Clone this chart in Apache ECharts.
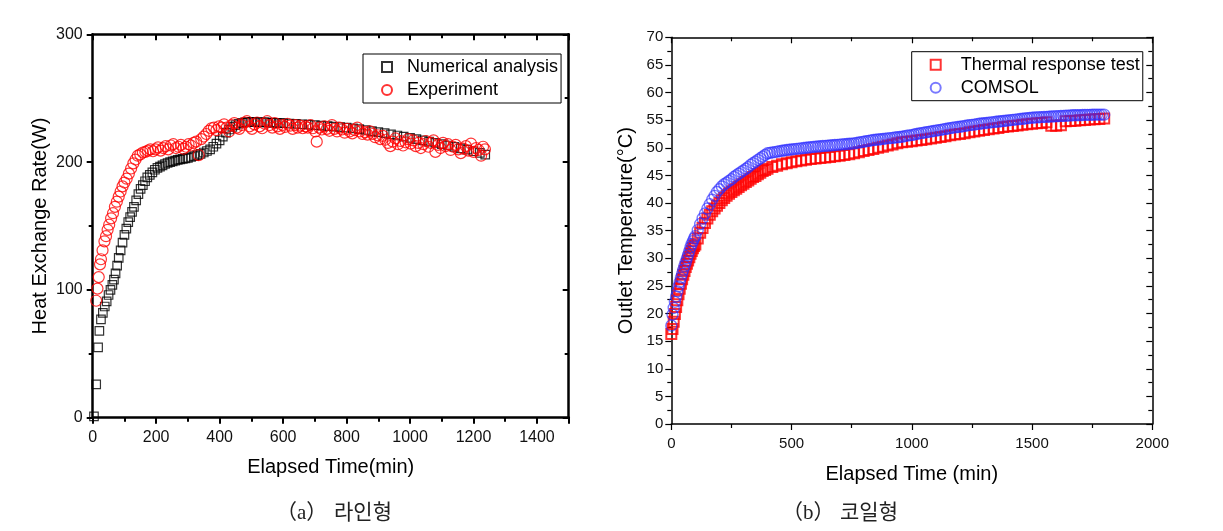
<!DOCTYPE html>
<html><head><meta charset="utf-8">
<script src="https://cdn.jsdelivr.net/npm/echarts@6/dist/echarts.min.js"></script>
<style>html,body{margin:0;padding:0;background:#fff}#c{width:1223px;height:531px}</style>
</head><body><div id="c"></div>
<script>
// ---- (a) line type: heat exchange rate ----
const numTime = [4,11,17,21,26,32,38,44,50,56,62,67,72,77,82,88,94,100,106,112,118,124,130,137,144,151,158,165,172,180,188,196,204,212,220,228,236,244,252,260,268,276,284,292,300,310,320,330,340,350,360,370,380,390,400,410,420,430,440,450,460,470,480,490,500,510,520,530,540,550,560,570,580,590,600,620,640,660,680,700,720,740,760,780,800,820,840,860,880,900,920,940,960,980,1000,1020,1040,1060,1080,1100,1120,1140,1160,1180,1200,1220,1237];
const numValue = [1,26,55,68,77,82,87,91,96,100,104,108,113,119,125,131,137,143,148,153,157,161,165,170,175,179,182,185,188,190,192,194,195.5,196.5,197.5,198.5,199.3,200,200.6,201.2,201.7,202.1,202.5,202.9,203.3,204,204.7,205.5,206.5,207.5,208.7,210,212,214.5,217,220,223,225.5,227.5,229,230,230.7,231.1,231.3,231.4,231.4,231.3,231.2,231.1,231,230.9,230.8,230.7,230.6,230.5,230.2,229.9,229.6,229.3,229,228.6,228.2,227.8,227.4,227,226.4,225.8,225.1,224.3,223.5,222.6,221.7,220.8,219.9,219,218,217,216,215,214,213,211.9,210.8,209.7,208.5,207.2,205.8];
const expTime = [11,15,19,23,26,31,37,42,47,52,58,64,70,76,82,88,94,100,107,114,121,128,135,142,150,158,166,174,182,190,198,206,214,222,230,238,246,254,262,270,278,286,294,302,310,318,326,334,342,350,358,366,374,382,390,398,406,414,422,430,438,446,454,462,470,478,486,494,502,510,518,526,534,542,550,558,566,574,582,590,598,606,614,622,630,638,646,654,662,670,678,686,694,702,706,714,722,730,738,746,754,762,770,778,786,794,802,810,818,826,834,842,850,858,866,874,882,890,898,906,914,922,930,938,946,954,962,970,978,986,994,1002,1010,1018,1026,1034,1042,1050,1058,1066,1074,1080,1088,1096,1104,1112,1120,1128,1136,1144,1152,1160,1168,1176,1184,1192,1200,1208,1216,1224,1230,1236];
const expValue = [91.5,101,110,120,124,131,138,142,147,151,156,160,165,169,173,177,181,184,187,191,195,199,202,205,206,207.5,208,209,210,208.5,210,211.5,209,211,212.5,210,213,214,211,212,213.5,210.5,212,214,213,215,216,205.5,218,220,222,224.5,226.5,227,225,228,227,229.5,227,224,229,230.5,227,226,229,231,232,228,226,229.5,231,228,226.5,230,232,229,227,230.5,228,226,229,227.5,230,228.5,226,229,227,228.5,226.5,228,227,229,226.5,224,216,227,225.5,228,226,224.5,229,226,224,227,225.5,223,226,224,222.5,225,227,224,222,223.5,221.5,224,222,219.5,221,218,220.5,217.5,215,212.5,216,218.5,214,216.5,213,215.5,218,214.5,217,212.5,215,211,214,216.5,212,215,217,208,213.5,211,215,212.5,214,209.5,212,213.5,210,207,210.5,212.5,209,214.5,208,211,209.5,205,212,210];

// ---- (b) coil type: outlet temperature ----
const trtTime = [0,5,10,15,20,25,30,35,40,45,50,55,60,65,70,75,80,85,90,95,100,110,120,130,140,150,160,170,180,190,200,210,220,230,240,250,260,270,280,290,300,310,320,330,340,350,360,370,380,390,400,420,440,460,480,500,520,540,560,580,600,620,640,660,680,700,720,740,760,780,800,820,840,860,880,900,920,940,960,980,1000,1020,1040,1060,1080,1100,1120,1140,1160,1180,1200,1220,1240,1260,1280,1300,1320,1340,1360,1380,1400,1420,1440,1460,1480,1500,1520,1540,1560,1580,1600,1620,1640,1660,1680,1700,1720,1740,1760,1780,1800];
const trtValue = [16.3,17.2,18.5,19.9,21.2,22.4,23.5,24.5,25.4,26.2,27.0,27.7,28.4,29.0,29.6,30.2,30.8,31.3,31.8,32.2,32.5,33.6,34.6,35.5,36.4,37.2,37.9,38.5,39.0,39.5,40.0,40.5,40.9,41.3,41.7,42.0,42.3,42.6,42.9,43.2,43.5,43.8,44.1,44.4,44.7,44.9,45.2,45.5,45.8,46.0,46.2,46.5,46.75,47.0,47.2,47.4,47.55,47.7,47.85,47.95,48.05,48.15,48.25,48.35,48.45,48.55,48.7,48.85,49.0,49.2,49.4,49.6,49.8,50.0,50.2,50.4,50.6,50.8,51.0,51.1,51.2,51.3,51.4,51.55,51.7,51.8,51.95,52.1,52.25,52.4,52.5,52.65,52.8,52.95,53.1,53.2,53.35,53.5,53.6,53.75,53.85,53.95,54.05,54.15,54.25,54.35,54.45,54.5,54.6,54.0,54.0,54.1,54.8,54.85,54.9,55.0,55.05,55.1,55.15,55.2,55.3];
const comTime = [0,5,10,15,20,25,30,35,40,45,50,55,60,65,70,75,80,85,90,95,100,110,120,130,140,150,160,170,180,190,200,210,220,230,240,250,260,270,280,290,300,310,320,330,340,350,360,370,380,390,400,410,420,430,440,450,460,470,480,490,500,510,520,530,540,550,560,570,580,590,600,610,620,630,640,650,660,670,680,690,700,710,720,730,740,750,760,770,780,790,800,810,820,830,840,850,860,870,880,890,900,910,920,930,940,950,960,970,980,990,1000,1010,1020,1030,1040,1050,1060,1070,1080,1090,1100,1110,1120,1130,1140,1150,1160,1170,1180,1190,1200,1210,1220,1230,1240,1250,1260,1270,1280,1290,1300,1310,1320,1330,1340,1350,1360,1370,1380,1390,1400,1410,1420,1430,1440,1450,1460,1470,1480,1490,1500,1510,1520,1530,1540,1550,1560,1570,1580,1590,1600,1610,1620,1630,1640,1650,1660,1670,1680,1690,1700,1710,1720,1730,1740,1750,1760,1770,1780,1790,1800];
const comValue = [17.8,19.8,21.0,22.1,23.1,24.0,24.9,25.7,26.5,27.2,27.9,28.6,29.3,30.0,30.6,31.3,32.0,32.6,33.1,33.6,34.0,35.1,36.2,37.2,38.1,39.0,39.8,40.6,41.3,42.0,42.5,43.0,43.4,43.7,44.0,44.3,44.7,45.0,45.3,45.6,45.9,46.2,46.5,46.9,47.2,47.5,47.8,48.1,48.4,48.7,49.0,49.08,49.15,49.22,49.3,49.38,49.45,49.52,49.6,49.65,49.7,49.75,49.8,49.85,49.9,49.95,50.0,50.05,50.1,50.15,50.2,50.23,50.27,50.31,50.35,50.38,50.42,50.46,50.5,50.53,50.57,50.61,50.65,50.68,50.72,50.76,50.8,50.88,50.95,51.03,51.1,51.18,51.25,51.33,51.4,51.45,51.5,51.55,51.6,51.65,51.7,51.75,51.8,51.85,51.9,51.95,52.0,52.1,52.2,52.25,52.3,52.4,52.5,52.58,52.65,52.73,52.8,52.88,52.95,53.03,53.1,53.18,53.25,53.33,53.4,53.48,53.55,53.63,53.7,53.75,53.8,53.88,53.95,54.03,54.1,54.15,54.2,54.28,54.35,54.4,54.45,54.5,54.55,54.6,54.65,54.7,54.75,54.8,54.85,54.9,54.95,55.0,55.05,55.1,55.15,55.2,55.25,55.3,55.35,55.4,55.45,55.48,55.5,55.53,55.55,55.58,55.6,55.63,55.65,55.68,55.7,55.73,55.75,55.78,55.8,55.83,55.85,55.88,55.9,55.9,55.9,55.93,55.95,55.95,55.95,55.98,56.0,56.0,56.0,56.0,56.0];

const seriesNames = ['Numerical analysis','Experiment','Thermal response test','COMSOL'];
const axisTitles = ['Elapsed Time(min)','Heat Exchange Rate(W)','Elapsed Time (min)','Outlet Temperature(\u00B0C)'];
const captionTags = ['\uFF08a\uFF09','\uFF08b\uFF09'];
const captionNames = ['라인형','코일형'];

const pairs = (xs, ys) => xs.map((x, i) => [x, ys[i]]);
const FONT = '"Liberation Sans", Arial, sans-serif';
const SERIF = '"Liberation Serif", "Noto Sans CJK KR", serif';

function axis(o) {
  const lw = o.lw, c = '#000';
  return {
    type: 'value', gridIndex: o.g, position: o.pos, min: o.min, max: o.max, interval: o.interval,
    splitLine: { show: false },
    axisLine: { show: true, onZero: false, lineStyle: { color: c, width: lw } },
    axisTick: { show: true, inside: o.inside, length: 6, lineStyle: { color: c, width: lw * 0.8 } },
    minorTick: { show: true, splitNumber: 2, length: 4, lineStyle: { color: c, width: lw * 0.8 } },
    axisLabel: o.label ? { show: true, color: '#111', fontFamily: FONT, fontSize: o.fs, margin: o.margin,
      showMaxLabel: o.showMax !== false, formatter: v => String(v) } : { show: false },
    name: o.name || '', nameLocation: 'middle', nameGap: o.nameGap || 0,
    nameTextStyle: { fontFamily: FONT, fontSize: 20, color: '#000' }
  };
}

const chart = echarts.init(document.getElementById('c'), null, { renderer: 'canvas' });
chart.setOption({
  backgroundColor: '#fff',
  animation: false,
  grid: [
    { left: 92.7, top: 34.3, width: 476, height: 383.4, containLabel: false },
    { left: 671.3, top: 37.3, width: 481, height: 386.7, containLabel: false }
  ],
  xAxis: [
    axis({ g: 0, pos: 'bottom', min: 0, max: 1500, interval: 200, lw: 2.5, inside: false, label: true, fs: 16, margin: 12, showMax: false, name: axisTitles[0], nameGap: 40 }),
    axis({ g: 0, pos: 'top', min: 0, max: 1500, interval: 200, lw: 2.5, inside: true, label: false }),
    axis({ g: 1, pos: 'bottom', min: 0, max: 2000, interval: 500, lw: 1.5, inside: false, label: true, fs: 15, margin: 12, name: axisTitles[2], nameGap: 40 }),
    axis({ g: 1, pos: 'top', min: 0, max: 2000, interval: 500, lw: 1.5, inside: true, label: false })
  ],
  yAxis: [
    axis({ g: 0, pos: 'left', min: 0, max: 300, interval: 100, lw: 2.5, inside: false, label: true, fs: 16, margin: 10, name: axisTitles[1], nameGap: 42 }),
    axis({ g: 0, pos: 'right', min: 0, max: 300, interval: 100, lw: 2.5, inside: true, label: false }),
    axis({ g: 1, pos: 'left', min: 0, max: 70, interval: 5, lw: 1.5, inside: false, label: true, fs: 15, margin: 8, name: axisTitles[3], nameGap: 35 }),
    axis({ g: 1, pos: 'right', min: 0, max: 70, interval: 5, lw: 1.5, inside: true, label: false })
  ],
  legend: [
    { data: [seriesNames[0], seriesNames[1]], orient: 'vertical', left: 363, top: 54,
      borderColor: '#000', borderWidth: 1, padding: [4, 3, 4, 18], itemGap: 5,
      itemWidth: 10, itemHeight: 10,
      textStyle: { fontFamily: FONT, fontSize: 18, color: '#000', padding: [0, 0, 0, 10] } },
    { data: [seriesNames[2], seriesNames[3]], orient: 'vertical', left: 911.7, top: 51.7,
      borderColor: '#000', borderWidth: 1, padding: [4, 3, 4, 18], itemGap: 5,
      itemWidth: 10, itemHeight: 10,
      textStyle: { fontFamily: FONT, fontSize: 18, color: '#000', padding: [0, 0, 0, 15] } }
  ],
  series: [
    { name: seriesNames[0], type: 'scatter', xAxisIndex: 0, yAxisIndex: 0, symbol: 'rect', symbolSize: 8.5,
      data: pairs(numTime, numValue), itemStyle: { color: 'rgba(0,0,0,0)', borderColor: '#000', borderWidth: 1.2 } },
    { name: seriesNames[1], type: 'scatter', xAxisIndex: 0, yAxisIndex: 0, symbol: 'circle', symbolSize: 11,
      data: pairs(expTime, expValue), itemStyle: { color: 'rgba(0,0,0,0)', borderColor: '#ff0000', borderWidth: 1.2 } },
    { name: seriesNames[2], type: 'scatter', xAxisIndex: 2, yAxisIndex: 2, symbol: 'rect', symbolSize: 10,
      data: pairs(trtTime, trtValue), itemStyle: { color: 'rgba(0,0,0,0)', borderColor: '#ff0000', borderWidth: 2 } },
    { name: seriesNames[3], type: 'scatter', xAxisIndex: 2, yAxisIndex: 2, symbol: 'circle', symbolSize: 11,
      data: pairs(comTime, comValue), itemStyle: { color: 'rgba(0,0,0,0)', borderColor: 'rgba(45,45,255,0.8)', borderWidth: 1.4 } }
  ],
  graphic: [
    { type: 'text', left: 276, top: 503, style: { text: captionTags[0], fontFamily: SERIF, fontSize: 21, fill: '#222' } },
    { type: 'text', left: 334, top: 503, style: { text: captionNames[0], fontFamily: SERIF, fontSize: 21, fill: '#222' } },
    { type: 'text', left: 782, top: 503, style: { text: captionTags[1], fontFamily: SERIF, fontSize: 21, fill: '#222' } },
    { type: 'text', left: 840, top: 503, style: { text: captionNames[1], fontFamily: SERIF, fontSize: 21, fill: '#222' } }
  ]
});
</script></body></html>
